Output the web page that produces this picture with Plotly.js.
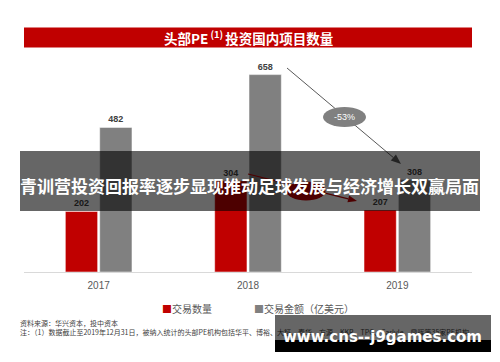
<!DOCTYPE html>
<html>
<head>
<meta charset="utf-8">
<script src="https://cdn.plot.ly/plotly-3.0.1.min.js"></script>
<style>html,body{margin:0;padding:0;background:#fff;}#chart{width:500px;height:362px;}</style>
</head>
<body>
<div id="chart"></div>
<script>
// ---- data ----
const categories = ['2017', '2018', '2019'];
const dealCount = [202, 304, 207];
const dealAmount = [482, 658, 308];
const seriesNames = ['交易数量', '交易金额（亿美元）'];
const changeLabel = '-53%';
const chartTitle = '头部PE<sup> (1) </sup>投资国内项目数量';
const bannerText = '青训营投资回报率逐步显现推动足球发展与经济增长双赢局面';
const watermarkText = 'www.cns--j9games.com';
const sourceLines = [
  '资料来源：华兴资本，投中资本',
  '注：（1）数据截止至2019年12月31日，被纳入统计的头部PE机构包括华平、博裕、大钲、春华、方源、KKR、TPG、Carlyle、鼎晖等35家PE机构'
];

// ---- page geometry (x2/y2 is a pixel overlay axis covering the whole page) ----
const FW = 500, FH = 362;
const L = 24, R = 472, T = 62, B = 272;

const CJK = '"Noto Sans CJK SC", "Noto Sans", sans-serif';
const LAT = '"Liberation Sans", Arial, sans-serif';
const P = {xref: 'x2', yref: 'y2'};

function arrowShapes(x0, y0, x1, y1, color, len, hw, width) {
  const dx = x1 - x0, dy = y1 - y0, d = Math.hypot(dx, dy);
  const ux = dx / d, uy = dy / d, nx = -uy, ny = ux;
  const bx = x1 - len * ux, by = y1 - len * uy;
  const p1 = [bx + hw * nx, by + hw * ny], p2 = [bx - hw * nx, by - hw * ny];
  return [
    Object.assign({type: 'line', layer: 'above', x0: x0, y0: y0, x1: bx, y1: by,
      line: {color: color, width: width}}, P),
    Object.assign({type: 'path', layer: 'above',
      path: `M ${x1} ${y1} L ${p1[0]} ${p1[1]} L ${p2[0]} ${p2[1]} Z`,
      fillcolor: color, line: {color: color, width: 0}}, P)
  ];
}
function ellipse(cx, cy, w, h, color) {
  return Object.assign({type: 'circle', layer: 'above',
    x0: cx - w / 2, x1: cx + w / 2, y0: cy - h / 2, y1: cy + h / 2,
    fillcolor: color, line: {width: 0}}, P);
}
function rect(x0, y0, x1, y1, color) {
  return Object.assign({type: 'rect', layer: 'above', x0: x0, x1: x1, y0: y0, y1: y1,
    fillcolor: color, line: {width: 0}}, P);
}
function label(x, y, text, font, xanchor) {
  return Object.assign({x: x, y: y, text: text, showarrow: false, font: font,
    xanchor: xanchor || 'center', yanchor: 'middle'}, P);
}

const traces = [
  {type: 'bar', x: categories, y: dealCount, name: seriesNames[0],
   marker: {color: '#C00000', line: {color: '#ffffff', width: 0.5}},
   texttemplate: '<b>%{y}</b>', textposition: 'outside', cliponaxis: false,
   textfont: {family: LAT, size: 9, color: '#404040'}, hoverinfo: 'skip'},
  {type: 'bar', x: categories, y: dealAmount, name: seriesNames[1],
   marker: {color: '#808080', line: {color: '#ffffff', width: 0.5}},
   texttemplate: '<b>%{y}</b>', textposition: 'outside', cliponaxis: false,
   textfont: {family: LAT, size: 9, color: '#404040'}, hoverinfo: 'skip'},
  // source notes as a text trace (so they sit beneath the watermark overlay)
  {type: 'scatter', mode: 'text', xaxis: 'x2', yaxis: 'y2', cliponaxis: false,
   x: [20, 20], y: [324, 333], text: sourceLines, textposition: 'middle right',
   textfont: {family: CJK, size: 7, color: '#404040'}, hoverinfo: 'skip', showlegend: false}
];

const shapes = [
  rect(24, 27.5, 472, 47.5, '#C00000'),
  ...arrowShapes(287, 68, 401, 164, '#595959', 10, 4, 1),
  ellipse(344.5, 117, 43, 20, '#808080'),
  ...arrowShapes(248, 174, 357, 201, '#C00000', 9, 3.5, 1.2),
  ellipse(306, 191, 39, 19, '#C00000'),
  rect(20, 151, 480, 211, 'rgba(0,0,0,0.6)'),
  rect(275, 315, 491, 340, 'rgba(0,0,0,0.6)'),
  rect(275, 340, 491, 352, '#000000')
];

const annotations = [
  label(248, 37.5, '<b>' + chartTitle + '</b>', {family: CJK, size: 13.5, color: '#ffffff'}),
  label(344.5, 117, changeLabel, {family: LAT, size: 9, color: '#ffffff'}),
  label(160, 308, '<span style="color:#C00000">■</span>' + seriesNames[0],
        {family: CJK, size: 10, color: '#595959'}, 'left'),
  label(252, 308, '<span style="color:#808080">■</span>' + seriesNames[1],
        {family: CJK, size: 10, color: '#595959'}, 'left'),
  label(249, 185, '<b>' + bannerText + '</b>', {family: CJK, size: 17, color: '#ffffff'}),
  label(382, 337, '<b>' + watermarkText + '</b>', {family: '"DejaVu Sans", sans-serif', size: 15, color: '#ffffff'})
];

const layout = {
  width: FW, height: FH,
  margin: {l: 0, r: 0, t: 0, b: 0, pad: 0},
  paper_bgcolor: '#ffffff', plot_bgcolor: 'rgba(0,0,0,0)',
  showlegend: false,
  barmode: 'group', bargap: 0.54, bargroupgap: 0.06,
  xaxis: {type: 'category', domain: [L / FW, R / FW], anchor: 'y',
          showline: true, linecolor: '#d9d9d9', linewidth: 1,
          ticks: '', showgrid: false, zeroline: false, ticklabelstandoff: 4,
          tickfont: {family: LAT, size: 10, color: '#595959'}, fixedrange: true},
  yaxis: {domain: [(FH - B) / FH, (FH - T) / FH], anchor: 'x', range: [0, 700],
          visible: false, showgrid: false, zeroline: false, fixedrange: true},
  xaxis2: {domain: [0, 1], anchor: 'y2', range: [0, FW], visible: false, fixedrange: true},
  yaxis2: {domain: [0, 1], anchor: 'x2', range: [FH, 0], visible: false, fixedrange: true},
  shapes: shapes,
  annotations: annotations
};

Plotly.newPlot('chart', traces, layout, {staticPlot: true, displayModeBar: false});
</script>
</body>
</html>
